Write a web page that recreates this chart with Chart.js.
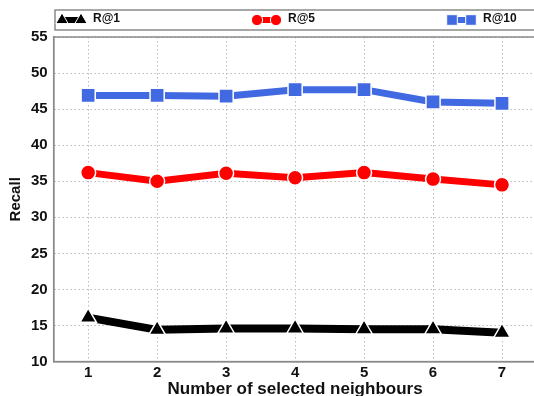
<!DOCTYPE html>
<html>
<head>
<meta charset="utf-8">
<script src="https://cdn.jsdelivr.net/npm/chart.js@4"></script>
<style>
  html, body { margin: 0; padding: 0; background: #fff; overflow: hidden; }
  canvas { display: block; }
</style>
</head>
<body>
<canvas id="chart" width="548" height="400"></canvas>
<script>
// values
const neighbours = ['1', '2', '3', '4', '5', '6', '7'];
const recallAt1 = [16.1, 14.4, 14.6, 14.6, 14.5, 14.5, 14.0];
const recallAt5 = [36.2, 35.0, 36.1, 35.5, 36.2, 35.3, 34.5];
const recallAt10 = [46.9, 46.9, 46.8, 47.7, 47.7, 46.0, 45.8];
const yTicks = [10, 15, 20, 25, 30, 35, 40, 45, 50, 55];

const FONT = "'Liberation Sans', Arial, sans-serif";

// matplotlib style legend: framed box, two markers joined by a line
const boxLegend = {
    id: 'boxLegend',
    afterDraw(chart) {
        const ctx = chart.ctx;
        const top = 10, bottom = 30, left = 55;
        ctx.save();
        ctx.fillStyle = '#fff';
        ctx.strokeStyle = '#8a8a8a';
        ctx.lineWidth = 1.5;
        ctx.fillRect(left, top, chart.width, bottom - top);
        ctx.strokeRect(left, top, chart.width, bottom - top);
        const cy = (top + bottom) / 2;
        chart.data.datasets.forEach((ds, i) => {
            const x0 = left + 7 + i * 195;
            const x1 = x0 + 19;
            ctx.strokeStyle = ds.borderColor;
            ctx.lineWidth = 6;
            ctx.beginPath();
            ctx.moveTo(x0, cy);
            ctx.lineTo(x1, cy);
            ctx.stroke();
            [x0, x1].forEach(x => {
                ctx.fillStyle = ds.pointBackgroundColor;
                ctx.strokeStyle = '#fff';
                ctx.lineWidth = 1;
                Chart.helpers.drawPoint(ctx, {
                    pointStyle: ds.pointStyle,
                    radius: ds.pointRadius * 0.75,
                    rotation: 0,
                    borderWidth: 1
                }, x, cy);
            });
            ctx.fillStyle = '#111';
            ctx.font = 'bold 12px ' + FONT;
            ctx.textBaseline = 'middle';
            ctx.fillText(ds.label, x1 + 12, cy - 1);
        });
        ctx.restore();
    }
};

// solid frame around the plot area
const frame = {
    id: 'frame',
    afterDatasetsDraw(chart) {
        const a = chart.chartArea, ctx = chart.ctx;
        ctx.save();
        ctx.strokeStyle = '#8a8a8a';
        ctx.lineWidth = 1.5;
        ctx.strokeRect(a.left, a.top, a.right - a.left, a.bottom - a.top);
        ctx.restore();
    }
};

new Chart(document.getElementById('chart'), {
    type: 'line',
    data: {
        labels: neighbours,
        datasets: [{
            label: 'R@1',
            data: recallAt1,
            borderColor: '#000',
            borderWidth: 8,
            pointStyle: 'triangle',
            pointRadius: 9.5,
            pointBackgroundColor: '#000',
            pointBorderColor: '#fff',
            pointBorderWidth: 1.5
        }, {
            label: 'R@5',
            data: recallAt5,
            borderColor: '#ff0000',
            borderWidth: 7,
            pointStyle: 'circle',
            pointRadius: 7.5,
            pointBackgroundColor: '#ff0000',
            pointBorderColor: '#fff',
            pointBorderWidth: 1.5
        }, {
            label: 'R@10',
            data: recallAt10,
            borderColor: '#4169e1',
            borderWidth: 7,
            pointStyle: 'rect',
            pointRadius: 10,
            pointBackgroundColor: '#4169e1',
            pointBorderColor: '#fff',
            pointBorderWidth: 1.5
        }]
    },
    options: {
        responsive: false,
        animation: false,
        layout: { padding: { top: 37, right: 4, left: 7 } },
        plugins: { legend: { display: false }, tooltip: { enabled: false } },
        scales: {
            x: {
                offset: true,
                grid: { color: '#bdbdbd', lineWidth: 1, drawTicks: false },
                border: { color: '#8a8a8a', width: 1.5, dash: [1.5, 2.5] },
                ticks: { color: '#111', padding: 2, font: { family: FONT, size: 15, weight: 'bold' } },
                title: {
                    display: true,
                    text: 'Number of selected neighbours',
                    color: '#111',
                    padding: { top: -4, bottom: 0 },
                    font: { family: FONT, size: 17, weight: 'bold' }
                }
            },
            y: {
                min: yTicks[0],
                max: yTicks[yTicks.length - 1],
                afterBuildTicks: axis => { axis.ticks = yTicks.map(v => ({ value: v })); },
                grid: { color: '#bdbdbd', lineWidth: 1, drawTicks: false },
                border: { color: '#8a8a8a', width: 1.5, dash: [1.5, 2.5] },
                ticks: { color: '#111', padding: 6, font: { family: FONT, size: 15, weight: 'bold' } },
                title: {
                    display: true,
                    text: 'Recall',
                    color: '#111',
                    padding: { top: 0, bottom: 0 },
                    font: { family: FONT, size: 15, weight: 'bold' }
                }
            }
        }
    },
    plugins: [boxLegend, frame]
});
</script>
</body>
</html>
